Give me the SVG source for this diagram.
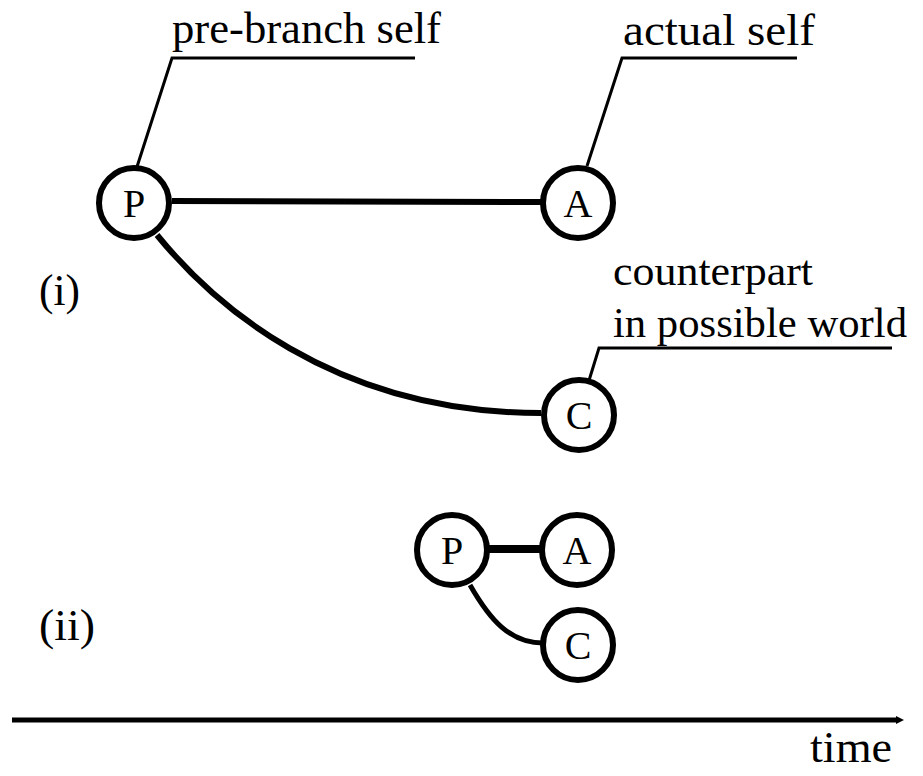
<svg xmlns="http://www.w3.org/2000/svg" width="923" height="776" viewBox="0 0 923 776">
<style>
text{font-family:"Liberation Serif","Times New Roman",serif;fill:#000}
.lbl{font-size:45px}
.cp{font-size:43px}
.nd{font-size:40px;text-anchor:middle}
.node circle{fill:#fff;stroke:#000;stroke-width:6}
.edge{fill:none;stroke:#000;stroke-width:6}
.lead{fill:none;stroke:#000;stroke-width:3}
</style>
<defs>
<marker id="ah" markerWidth="8" markerHeight="8" refX="2" refY="4" orient="auto" markerUnits="userSpaceOnUse" viewBox="0 0 8 8">
<path d="M0,0 L8,4 L0,8 Z" fill="#000"/>
</marker>
</defs>
<g id="connectors">
<path class="edge" d="M172,201 L541,202"/>
<path class="edge" d="M157,235 C210,300 330,413 541,413"/>
<path class="edge" d="M489,549 L541,549" style="stroke-width:8"/>
<path class="edge" d="M470,585 C490,620 510,643 543,643" style="stroke-width:5"/>
<path class="lead" d="M135,173 L172,58 L415,58"/>
<path class="lead" d="M587,166 L622,58 L797,58"/>
<path class="lead" d="M587,387 L599,348 L892,348"/>
<path d="M12,720 L898,720" fill="none" stroke="#000" stroke-width="5" marker-end="url(#ah)"/>
</g>
<g id="label-prebranch"><text class="lbl" x="172" y="43" textLength="269" lengthAdjust="spacingAndGlyphs">pre-branch self</text></g>
<g id="label-actual"><text class="lbl" x="623" y="45" textLength="192" lengthAdjust="spacingAndGlyphs">actual self</text></g>
<g id="label-counterpart"><text class="cp" x="613" y="285" textLength="200" lengthAdjust="spacingAndGlyphs">counterpart</text><text class="cp" x="613" y="337" textLength="294" lengthAdjust="spacingAndGlyphs">in possible world</text></g>
<g id="label-i"><text class="lbl" x="39" y="305" textLength="41" lengthAdjust="spacingAndGlyphs">(i)</text></g>
<g id="label-ii"><text class="lbl" x="39" y="640" textLength="56" lengthAdjust="spacingAndGlyphs">(ii)</text></g>
<g id="label-time"><text class="lbl" x="810" y="762" textLength="82" lengthAdjust="spacingAndGlyphs">time</text></g>
<g id="node-P1" class="node"><circle cx="134" cy="203" r="35"/><text class="nd" x="134" y="217">P</text></g>
<g id="node-A1" class="node"><circle cx="578" cy="203" r="35"/><text class="nd" x="578" y="217">A</text></g>
<g id="node-C1" class="node"><circle cx="579" cy="415" r="35"/><text class="nd" x="579" y="429">C</text></g>
<g id="node-P2" class="node"><circle cx="452" cy="550" r="35"/><text class="nd" x="452" y="564">P</text></g>
<g id="node-A2" class="node"><circle cx="577" cy="550" r="35"/><text class="nd" x="577" y="564">A</text></g>
<g id="node-C2" class="node"><circle cx="578" cy="645" r="35"/><text class="nd" x="578" y="659">C</text></g>
</svg>
